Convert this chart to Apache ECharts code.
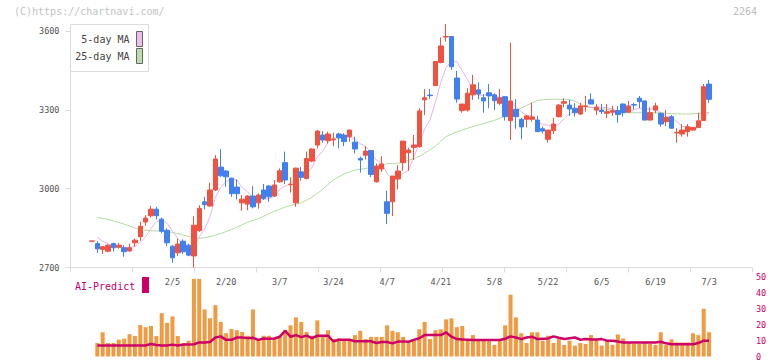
<!DOCTYPE html>
<html><head><meta charset="utf-8">
<script src="https://cdn.jsdelivr.net/npm/echarts@6/dist/echarts.min.js"></script>
<style>html,body{margin:0;padding:0;background:#fff}#c{width:772px;height:361px}</style>
</head><body><div id="c"></div><script>
const dates = ['1/15','1/16','1/17','1/20','1/21','1/22','1/23','1/24','1/27','1/28','1/29','1/30','1/31','2/3','2/4','2/5','2/6','2/7','2/10','2/12','2/13','2/14','2/17','2/18','2/19','2/20','2/21','2/25','2/26','2/27','2/28','3/3','3/4','3/5','3/6','3/7','3/10','3/11','3/12','3/13','3/14','3/17','3/18','3/19','3/21','3/24','3/25','3/26','3/27','3/28','3/31','4/1','4/2','4/3','4/4','4/7','4/8','4/9','4/10','4/11','4/14','4/15','4/16','4/17','4/18','4/21','4/22','4/23','4/24','4/25','4/28','4/30','5/1','5/2','5/7','5/8','5/9','5/12','5/13','5/14','5/15','5/16','5/19','5/20','5/21','5/22','5/23','5/26','5/27','5/28','5/29','5/30','6/2','6/3','6/4','6/5','6/6','6/9','6/10','6/11','6/12','6/13','6/16','6/17','6/18','6/19','6/20','6/23','6/24','6/25','6/26','6/27','6/30','7/1','7/2','7/3'];
const openP = [2800,2791,2769,2762,2791,2777,2775,2763,2794,2817,2873,2897,2922,2884,2842,2781,2756,2800,2785,2744,2840,2950,2934,2995,3082,3067,3040,3006,2946,2941,2972,2946,2995,3010,2972,3026,3099,3015,2946,3064,3039,3105,3166,3204,3183,3186,3208,3204,3198,3177,3115,3127,3145,3026,3075,2950,2950,3037,3099,3137,3157,3160,3338,3356,3392,3480,3577,3579,3421,3297,3299,3357,3376,3346,3365,3357,3325,3350,3259,3302,3264,3264,3264,3261,3228,3188,3221,3274,3325,3318,3306,3284,3313,3338,3299,3299,3287,3291,3297,3322,3291,3320,3344,3334,3261,3299,3287,3255,3274,3212,3208,3217,3223,3233,3259,3398];
const closeP = [2801,2771,2779,2785,2775,2785,2760,2775,2804,2857,2888,2922,2897,2838,2794,2737,2789,2760,2747,2861,2925,2939,2995,3113,3049,3045,2981,2981,2960,2972,2931,2976,2963,2969,3014,3068,3033,3017,3078,3043,3115,3151,3219,3185,3208,3189,3193,3179,3223,3151,3109,3143,3054,3086,3094,2906,3048,3067,3181,3147,3166,3296,3346,3354,3484,3543,3579,3464,3341,3322,3363,3395,3360,3334,3353,3335,3346,3274,3334,3274,3235,3277,3273,3217,3219,3223,3246,3318,3331,3303,3289,3315,3315,3322,3310,3293,3293,3297,3282,3289,3315,3318,3331,3261,3289,3315,3246,3271,3230,3214,3223,3236,3233,3258,3388,3340];
const lowP = [2800,2756,2752,2758,2760,2771,2741,2760,2779,2802,2859,2890,2883,2830,2781,2718,2744,2751,2743,2700,2836,2921,2931,2991,3045,3007,2969,2959,2916,2918,2925,2924,2957,2950,2969,3023,3017,2985,2931,3030,3035,3101,3153,3175,3172,3162,3153,3162,3179,3134,3061,3111,3044,3023,3064,2865,2896,2997,3068,3068,3109,3156,3280,3341,3392,3477,3560,3452,3327,3289,3293,3338,3340,3289,3306,3299,3318,3259,3185,3228,3188,3233,3255,3217,3211,3175,3208,3271,3310,3277,3274,3280,3293,3322,3280,3284,3268,3277,3251,3274,3291,3301,3306,3261,3261,3287,3236,3238,3230,3175,3198,3198,3221,3230,3259,3327];
const highP = [2801,2800,2781,2788,2794,2794,2785,2791,2810,2874,2899,2934,2931,2890,2849,2785,2810,2807,2791,2895,2937,2969,3023,3128,3151,3071,3042,3035,2976,2975,3010,2982,3018,3014,3033,3077,3141,3043,3080,3083,3141,3153,3223,3219,3217,3213,3213,3211,3225,3198,3122,3162,3145,3096,3124,2992,3048,3090,3181,3156,3204,3306,3379,3379,3484,3575,3627,3579,3448,3322,3382,3433,3404,3360,3398,3363,3379,3350,3556,3341,3270,3280,3327,3277,3236,3223,3270,3322,3344,3338,3325,3327,3353,3363,3322,3322,3322,3315,3315,3325,3334,3327,3353,3334,3310,3327,3289,3299,3280,3230,3246,3246,3233,3289,3398,3414];
const ma5 = [null,2814,2800,2790,2782,2779,2777,2776,2780,2796,2817,2849,2874,2880,2868,2838,2811,2784,2765,2779,2816,2846,2893,2967,3004,3028,3037,3034,3003,2988,2965,2964,2960,2962,2971,2998,3009,3020,3042,3048,3057,3081,3121,3143,3176,3190,3199,3191,3198,3187,3171,3161,3136,3109,3097,3057,3038,3040,3059,3070,3122,3171,3227,3262,3329,3405,3461,3485,3482,3450,3414,3377,3356,3355,3361,3355,3346,3328,3328,3313,3293,3279,3279,3255,3244,3242,3236,3245,3267,3284,3297,3311,3311,3309,3310,3311,3307,3303,3295,3291,3295,3300,3307,3303,3303,3303,3288,3276,3270,3255,3237,3235,3227,3233,3268,3291];
const ma25 = [null,2890,2887,2883,2877,2871,2865,2858,2850,2845,2842,2840,2839,2838,2836,2833,2829,2824,2818,2813,2811,2813,2817,2823,2829,2837,2845,2853,2863,2872,2879,2886,2895,2905,2914,2922,2930,2936,2941,2946,2956,2968,2982,2998,3016,3033,3045,3056,3064,3071,3074,3077,3080,3084,3090,3095,3096,3097,3101,3108,3115,3123,3135,3148,3162,3180,3198,3208,3216,3223,3230,3236,3242,3248,3254,3260,3268,3277,3287,3297,3307,3317,3327,3335,3338,3340,3340,3340,3340,3339,3333,3322,3314,3310,3306,3304,3302,3298,3293,3290,3289,3289,3289,3289,3289,3289,3288,3287,3286,3285,3284,3284,3285,3286,3288,3290];
const volume = [null,8.5,15.3,8.5,8.5,10.6,11.2,14.1,12.9,19.9,18.5,19.3,12.9,27.4,21.2,25.3,12.9,8.5,10,49,49,29.7,24.1,32.4,21.8,14.7,17.4,16.6,15.5,13.1,29.7,11,13.1,13.1,11.4,13.1,16.8,19.7,24.7,21.8,15.5,13.1,22.8,13.1,16.6,11,11.4,11,10.4,13.5,16.2,11,12.4,12.4,12.4,19.7,16.2,15.3,12.4,8.5,10,17.2,21.8,11,16.6,17.2,23.4,24.1,18.5,19.3,10,13.5,10,10,10,7.3,11,19.7,39,24.7,14.7,8.5,15.3,15.3,10,13.1,8.5,11,7.3,10,6.9,8.5,7.9,13.5,11,6.9,10,7.3,13.9,11.4,8.5,7.9,7.9,8.5,7.9,7.3,15.3,7.3,10.8,8.9,8.9,8.9,14.7,13.5,30.1,15.3];
const aiPredict = [null,7,7,7,7,7,7,7,7,7,7,7.9,7.2,7,7,7.5,7,7.5,7.5,7.7,8.9,8.9,9.2,12,12.7,10.5,10.5,12,12,11.6,11.8,10.5,11.4,11.2,11.4,12.5,16.2,12.5,13.5,12.2,13.2,11.6,13.1,13.1,13.1,9.6,10.6,10.6,10.6,9.6,9.6,9.6,9.6,8.5,9.1,9.1,8.3,9.4,9.4,9.3,10.5,11.5,13.5,13.5,13.5,13.5,15.2,12.5,11,10.8,10.6,10.4,10.4,10.4,10.4,10.4,10.4,11.2,12.7,12,11,12,12.5,11,11.2,11.4,12.7,11.8,11,11.5,12,10.6,11,10.8,10.8,11,10,10,9.5,8.9,8.9,8.9,8.9,8.9,8.9,8.9,9.3,8.3,7.7,7.7,7.7,7.7,7.7,8.5,10,10];
const tickLabels = ['2/5','2/20','3/7','3/24','4/7','4/21','5/8','5/22','6/5','6/19','7/3'];
const priceAxis = {min: 2700, max: 3600, interval: 300};
const volAxis = {min: 0, max: 50, interval: 10};

const LEAD = 4, TRAIL = 8;
const axisCats = [];
for (let i = 0; i < LEAD; i++) axisCats.push('lead' + i);
dates.forEach(d => axisCats.push(d));
for (let i = 0; i < TRAIL; i++) axisCats.push('trail' + i);

const candleData = dates.map((d, i) => [i + LEAD, openP[i], closeP[i], lowP[i], highP[i]]);
const toPts = arr => arr.map((v, i) => v == null ? null : [i + LEAD, v]).filter(p => p);

const MONO = '"DejaVu Sans Mono", "Liberation Mono", monospace';
const UP = '#f05240', DOWN = '#4180ee';

const chart = echarts.init(document.getElementById('c'), null, {renderer: 'svg'});
chart.setOption({
  animation: false,
  backgroundColor: '#fff',
  grid: [
    {left: 70.5, right: 20, top: 31, height: 236.5},
    {left: 70.5, right: 20, top: 277.3, height: 80.4}
  ],
  xAxis: [
    {type: 'category', gridIndex: 0, data: axisCats, boundaryGap: false,
     axisLine: {lineStyle: {color: '#dcdcdc'}}, axisTick: {show: false},
     axisLabel: {interval: (idx, val) => tickLabels.indexOf(val) >= 0, color: '#555', fontSize: 8.5, fontFamily: MONO, margin: 10},
     splitLine: {show: false}},
    {type: 'category', gridIndex: 1, data: axisCats, boundaryGap: false, show: false},
    {type: 'value', gridIndex: 0, min: 0, max: 11, interval: 1, position: 'bottom',
     axisLine: {show: false, onZero: false}, axisTick: {show: true, length: 5, lineStyle: {color: '#dcdcdc'}},
     axisLabel: {show: false}, splitLine: {show: false}}
  ],
  yAxis: [
    {type: 'value', gridIndex: 0, min: priceAxis.min, max: priceAxis.max, interval: priceAxis.interval, position: 'left',
     axisLine: {show: true, lineStyle: {color: '#dcdcdc'}}, axisTick: {show: true, length: 5, lineStyle: {color: '#dcdcdc'}},
     axisLabel: {color: '#555', fontSize: 8.5, fontFamily: MONO, margin: 11, formatter: v => String(v)}, splitLine: {show: false}},
    {type: 'value', gridIndex: 1, min: volAxis.min, max: volAxis.max, interval: volAxis.interval, position: 'right',
     axisLine: {show: false}, axisTick: {show: false},
     axisLabel: {color: '#cc0066', fontSize: 8.5, fontFamily: MONO, margin: 4, formatter: v => String(v)}, splitLine: {show: false}}
  ],
  series: [
    {type: 'line', xAxisIndex: 0, yAxisIndex: 0, data: toPts(ma25), showSymbol: false, symbol: 'none',
     lineStyle: {color: '#b4dba4', width: 1}, z: 2},
    {type: 'line', xAxisIndex: 0, yAxisIndex: 0, data: toPts(ma5), showSymbol: false, symbol: 'none',
     lineStyle: {color: '#e6b4ea', width: 1}, z: 2},
    {type: 'candlestick', xAxisIndex: 0, yAxisIndex: 0, data: candleData, encode: {x: 0, y: [1, 2, 3, 4]},
     barWidth: 5, clip: false,
     itemStyle: {color: UP, color0: DOWN, borderColor: UP, borderColor0: DOWN, borderWidth: 1}, z: 3},
    {type: 'bar', xAxisIndex: 1, yAxisIndex: 1, data: toPts(volume), barWidth: 4,
     itemStyle: {color: '#f29a42'}},
    {type: 'line', xAxisIndex: 1, yAxisIndex: 1, data: toPts(aiPredict), showSymbol: false, symbol: 'none',
     lineStyle: {color: '#cc0066', width: 2.5}, z: 4}
  ],
  graphic: [
    {type: 'text', left: 14, top: 6, z: 50, style: {text: '(C)https://chartnavi.com/', fill: '#c4c4c4', font: '10px ' + MONO}},
    {type: 'text', right: 15, top: 6, z: 50, style: {text: '2264', fill: '#bdbdbd', font: '10px ' + MONO}},
    {type: 'rect', z: 50, shape: {x: 70.5, y: 24.5, width: 78, height: 47}, style: {fill: '#fff', stroke: '#dcdcdc', lineWidth: 1}},
    {type: 'text', z: 51, x: 129.5, y: 39, style: {text: '5-day MA', fill: '#444', font: '10px ' + MONO, align: 'right', verticalAlign: 'middle'}},
    {type: 'text', z: 51, x: 129.5, y: 56, style: {text: '25-day MA', fill: '#444', font: '10px ' + MONO, align: 'right', verticalAlign: 'middle'}},
    {type: 'rect', z: 51, shape: {x: 136.5, y: 31.5, width: 6, height: 15}, style: {fill: '#ecbcec', stroke: '#666', lineWidth: 1}},
    {type: 'rect', z: 51, shape: {x: 136.5, y: 48.5, width: 6, height: 15}, style: {fill: '#bcdcac', stroke: '#666', lineWidth: 1}},
    {type: 'text', z: 51, x: 75, y: 286, style: {text: 'AI-Predict', fill: '#cc0066', font: '10px ' + MONO, align: 'left', verticalAlign: 'middle'}},
    {type: 'rect', z: 51, shape: {x: 142, y: 277, width: 7, height: 16}, style: {fill: '#cc0066'}}
  ]
});
</script></body></html>
